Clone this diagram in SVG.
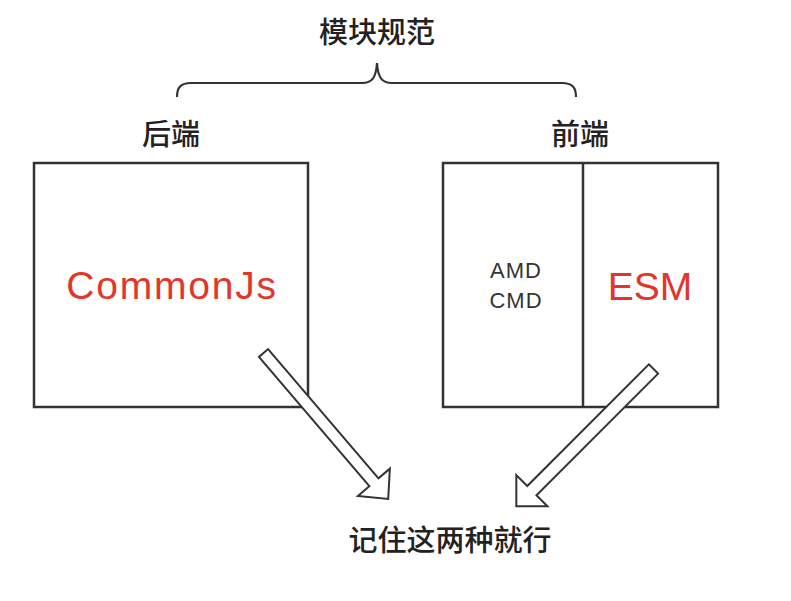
<svg xmlns="http://www.w3.org/2000/svg" width="791" height="601" viewBox="0 0 791 601">
<style>
.box{fill:#fff;stroke:#333;stroke-width:2.5}
.cn{font-family:"Noto Sans CJK SC","Noto Sans",sans-serif;font-size:29px;font-weight:500;fill:#222;text-anchor:middle}
.red{font-family:"Liberation Sans",Arial,sans-serif;fill:#e3352a;text-anchor:middle}
.gray{font-family:"Liberation Sans",Arial,sans-serif;font-size:22px;fill:#333;text-anchor:middle;letter-spacing:1px}
.arrow{fill:#fff;stroke:#333;stroke-width:2;stroke-linejoin:miter}
.brace{fill:none;stroke:#333;stroke-width:2.2}
</style>
<rect width="791" height="601" fill="#fff"/>
<g id="title">
<text class="cn" x="377" y="43">模块规范</text>
<path class="brace" d="M177,97 C177,87 181,83 191,83 L362,83 C372,83 376,78 377,63 C378,78 382,83 392,83 L562,83 C572,83 576,87 576,97"/>
</g>
<g id="backend">
<text class="cn" x="171" y="145">后端</text>
<rect class="box" x="34" y="163" width="274" height="244"/>
<text class="red" x="172" y="299" font-size="39" letter-spacing="1.8">CommonJs</text>
</g>
<g id="frontend">
<text class="cn" x="580" y="145">前端</text>
<rect class="box" x="443" y="163" width="275" height="244"/>
<line x1="583" y1="163" x2="583" y2="407" stroke="#333" stroke-width="2.5"/>
<text class="gray" x="516" y="278">AMD</text>
<text class="gray" x="516" y="308">CMD</text>
<text class="red" x="650" y="300" font-size="39">ESM</text>
</g>
<g id="connectors">
<path class="arrow" transform="translate(263.5,353) rotate(49.5)" d="M0,-6 L170,-6 L170,-21 L192,0 L170,21 L170,6 L0,6 Z"/>
<path class="arrow" transform="translate(653.5,369) rotate(135)" d="M0,-6.5 L172,-6.5 L172,-22 L194,0 L172,22 L172,6.5 L0,6.5 Z"/>
</g>
<g id="conclusion">
<text class="cn" x="450" y="551">记住这两种就行</text>
</g>
</svg>
